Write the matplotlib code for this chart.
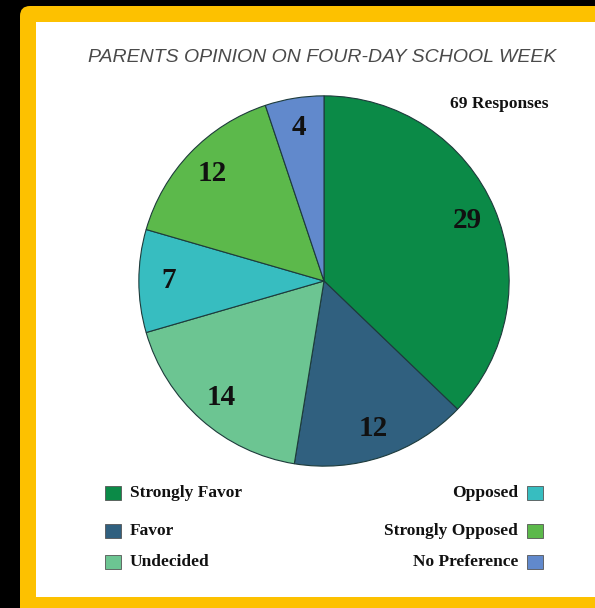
import matplotlib.pyplot as plt
from matplotlib.patches import FancyBboxPatch, Rectangle

# data
labels = ['Strongly Favor', 'Favor', 'Undecided', 'Opposed', 'Strongly Opposed', 'No Preference']
counts = [29, 12, 14, 7, 12, 4]
colors = ['#0b8a47', '#30607f', '#6cc592', '#37bdc0', '#5cb94b', '#6189cc']
title = 'PARENTS OPINION ON FOUR-DAY SCHOOL WEEK'
note = '69 Responses'

W, H = 595, 608
fig = plt.figure(figsize=(W / 100, H / 100), dpi=100, facecolor='black')

# background / frame axes in pixel coords
bg = fig.add_axes([0, 0, 1, 1])
bg.set_xlim(0, W)
bg.set_ylim(H, 0)
bg.axis('off')
bg.add_patch(FancyBboxPatch((20, 6), 620, 640, boxstyle='round,pad=0,rounding_size=10',
                            facecolor='#fdc100', edgecolor='none'))
bg.add_patch(Rectangle((36, 22), W - 36, 597 - 22, facecolor='white', edgecolor='none'))

bg.text(322, 58, title, ha='center', va='center', fontsize=14, style='italic',
        family='Liberation Sans', color='#4a4a4a')
bg.text(548, 104, note, ha='right', va='center', fontsize=12.5, fontweight='bold',
        family='Liberation Serif', color='#111111')

# pie
cx, cy, r = 324, 281, 187
ax = fig.add_axes([(cx - r) / W, (H - cy - r) / H, 2 * r / W, 2 * r / H])
wedges, _, autotexts = ax.pie(counts, colors=colors, startangle=90, counterclock=False,
                              autopct=lambda p: '{:.0f}'.format(p * sum(counts) / 100),
                              pctdistance=0.84,
                              wedgeprops=dict(edgecolor='#1d3b3b', linewidth=0.8))
for t in autotexts:
    t.set_fontsize(21)
    t.set_fontweight('bold')
    t.set_family('Liberation Serif')
    t.set_color('#111111')
ax.set_xlim(-1.01, 1.01)
ax.set_ylim(-1.01, 1.01)
ax.axis('off')

# legend, drawn by hand: left column and right column
rows_y = [493, 531, 562]
for i, (lab, col) in enumerate(zip(labels, colors)):
    y = rows_y[i % 3]
    if i < 3:
        bg.add_patch(Rectangle((105, y - 7), 16, 14, facecolor=col, edgecolor='#555555', linewidth=0.6))
        bg.text(130, y, lab, ha='left', va='center', fontsize=12.5, fontweight='bold',
                family='Liberation Serif', color='#111111')
    else:
        bg.add_patch(Rectangle((527, y - 7), 16, 14, facecolor=col, edgecolor='#555555', linewidth=0.6))
        bg.text(518, y, lab, ha='right', va='center', fontsize=12.5, fontweight='bold',
                family='Liberation Serif', color='#111111')

fig.savefig('out.png', dpi=100, facecolor='black')
